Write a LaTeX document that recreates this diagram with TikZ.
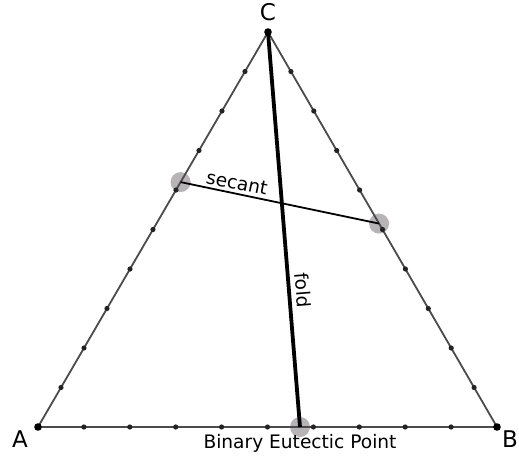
\documentclass[tikz,border=0pt]{standalone}
\usepackage{fontspec}
\setmainfont{DejaVu Sans}
\usetikzlibrary{calc}
\definecolor{edgegray}{RGB}{75,75,75}
\definecolor{dotgray}{RGB}{35,35,35}
\definecolor{halo}{RGB}{135,128,135}
\tikzset{
  edgeline/.style={draw=edgegray, line width=1.8pt},
  tickdot/.style={fill=dotgray},
  cornerdot/.style={fill=black},
  halodot/.style={fill=halo, fill opacity=0.6},
  foldline/.style={draw=black, line width=3.8pt},
  secantline/.style={draw=black, line width=1.8pt},
  vlabel/.style={font=\fontsize{23}{23}\selectfont},
  txt/.style={font=\fontsize{18.6}{19}\selectfont, inner sep=0pt}
}
\begin{document}
\begin{tikzpicture}[x=1pt,y=-1pt]
\useasboundingbox (0,0) rectangle (519,462);
\coordinate (A) at (38,427);
\coordinate (B) at (497,427);
\coordinate (C) at (268,32);
\coordinate (E) at (300,427);
\coordinate (P) at ($(A)!0.62!(C)$);
\coordinate (Q) at ($(B)!0.515!(C)$);
% halos
\fill[halodot] (P) circle (10);
\fill[halodot] (Q) circle (10);
\fill[halodot] (E) circle (10);
% edges
\draw[edgeline] (A) -- (B) -- (C) -- cycle;
% ticks
\foreach \t in {0.1,0.2,...,0.95}{
  \fill[tickdot] ($(A)!\t!(B)$) circle (2.6);
  \fill[tickdot] ($(A)!\t!(C)$) circle (2.6);
  \fill[tickdot] ($(B)!\t!(C)$) circle (2.6);
}
\fill[cornerdot] (A) circle (3.8);
\fill[cornerdot] (B) circle (3.8);
\fill[cornerdot] (C) circle (3.8);
% lines
\draw[secantline] (P) -- (Q);
\draw[foldline] (C) -- (E);
% labels
\node[vlabel] (la) at (20,439) {A};
\node[vlabel] (lb) at (510,439) {B};
\node[vlabel] (lc) at (268,12) {C};
\node[txt] (le) at (300,443) {Binary Eutectic Point};
\node[txt, rotate=-11.5] (ls) at (237,183) {secant};
\node[txt, rotate=-85.4] (lf) at (303,290) {fold};
\end{tikzpicture}
\end{document}
